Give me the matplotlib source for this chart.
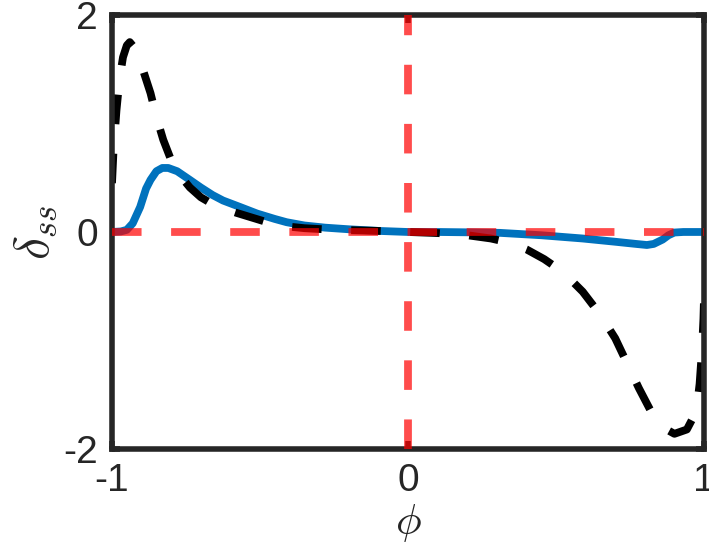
import numpy as np
import matplotlib
matplotlib.use("Agg")
import matplotlib.pyplot as plt

plt.rcParams['font.family'] = ['Liberation Sans', 'DejaVu Sans']
plt.rcParams['mathtext.fontset'] = 'cm'

# steady-state profile, dashed black curve
phi_dash = [-1.0, -0.995, -0.985, -0.975, -0.963, -0.95, -0.94, -0.925, -0.91, -0.895,
            -0.87, -0.85, -0.827, -0.80, -0.77, -0.737, -0.70, -0.65, -0.578, -0.50,
            -0.44, -0.35, -0.25, -0.1, 0.0, 0.1, 0.2, 0.28, 0.345, 0.40,
            0.46, 0.524, 0.59, 0.649, 0.70, 0.74, 0.78, 0.824, 0.86, 0.90,
            0.942, 0.965, 0.976, 0.985, 0.993, 0.998, 1.0]
delta_dash = [0.45, 0.75, 1.12, 1.40, 1.61, 1.72, 1.75, 1.70, 1.60, 1.49,
              1.28, 1.06, 0.85, 0.66, 0.52, 0.41, 0.32, 0.24, 0.175, 0.11,
              0.06, 0.035, 0.02, 0.01, 0.0, -0.01, -0.03, -0.06, -0.10, -0.16,
              -0.25, -0.37, -0.55, -0.76, -0.98, -1.21, -1.44, -1.67, -1.80, -1.86,
              -1.82, -1.70, -1.61, -1.40, -1.09, -0.80, -0.6]

# solid blue curve
phi_solid = [-1.0, -0.97, -0.95, -0.93, -0.905, -0.885, -0.87, -0.85, -0.83, -0.81,
             -0.78, -0.737, -0.70, -0.66, -0.625, -0.567, -0.51, -0.45, -0.41, -0.35,
             -0.28, -0.2, -0.1, 0.0, 0.1, 0.2, 0.31, 0.45, 0.59, 0.70,
             0.77, 0.807, 0.83, 0.86, 0.88, 0.90, 0.93, 1.0]
delta_solid = [0.0, 0.005, 0.02, 0.08, 0.23, 0.40, 0.48, 0.56, 0.59, 0.59,
               0.56, 0.48, 0.41, 0.34, 0.29, 0.23, 0.17, 0.12, 0.09, 0.06,
               0.04, 0.025, 0.01, 0.0, 0.0, -0.003, -0.008, -0.03, -0.06, -0.09,
               -0.11, -0.12, -0.11, -0.07, -0.03, -0.005, 0.0, 0.0]

xticks = [-1, 0, 1]
yticks = [-2, 0, 2]

fig = plt.figure(figsize=(7.09, 5.54), dpi=100)
ax = fig.add_axes([0.158, 0.1895, 0.835, 0.7835])

lw = 5.6
dash = (0, (3.8, 3.8))
ax.plot(phi_solid, delta_solid, color='#0072BD', lw=lw, solid_capstyle='butt', zorder=2)
ax.plot(phi_dash, delta_dash, color='black', lw=lw, ls=dash, zorder=3)

# reference lines (drawn over the box, like the original)
ax.plot([-1, 1], [0, 0], color='red', alpha=0.7, lw=lw, ls=dash,
        clip_on=False, zorder=5)
ax.plot([0, 0], [-2, 2], color='red', alpha=0.7, lw=lw, ls=dash,
        clip_on=False, zorder=5)

ax.set_xlim(-1, 1)
ax.set_ylim(-2, 2)
ax.set_xticks(xticks)
ax.set_yticks(yticks)
ax.set_xticklabels([str(t) for t in xticks])
ax.set_yticklabels([str(t) for t in yticks])
ax.tick_params(direction='in', length=6, width=4, top=True, right=True,
               labelsize=28, colors='#262626')
ax.tick_params(axis='x', pad=10)
ax.tick_params(axis='y', pad=10)
for s in ax.spines.values():
    s.set_linewidth(4)
    s.set_color('#262626')
    s.set_zorder(4)

ax.set_xlabel(r'$\phi$', fontsize=31, color='#262626', labelpad=2)
ax.set_ylabel(r'$\delta_{ss}$', fontsize=36, color='#262626', labelpad=3)

fig.savefig('out.png', dpi=100)
